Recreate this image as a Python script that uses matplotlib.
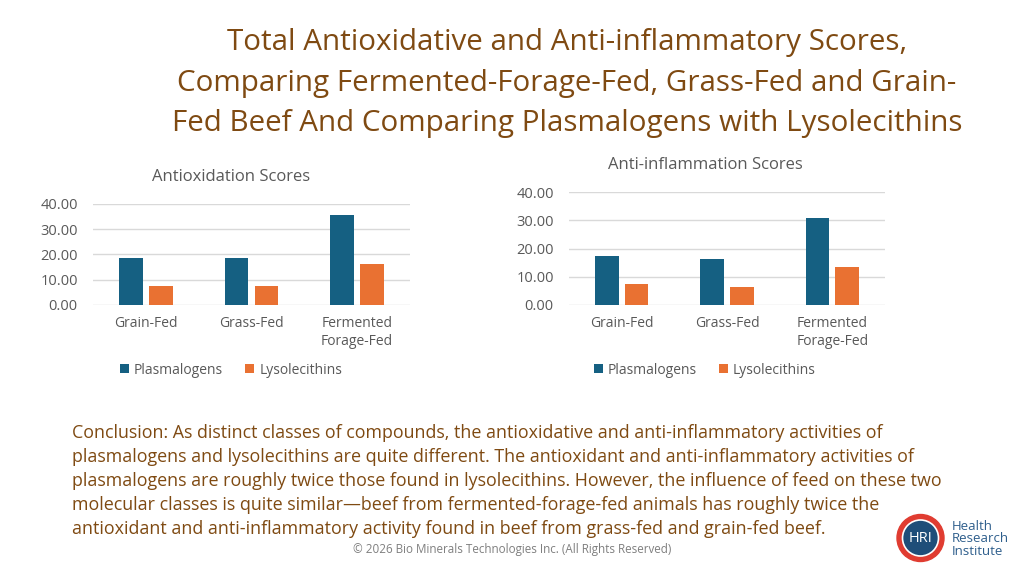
import matplotlib
matplotlib.use("Agg")
import matplotlib.pyplot as plt
from matplotlib.patches import Circle
import numpy as np

plt.rcParams['font.family'] = ['Open Sans', 'DejaVu Sans']

# data
categories = ["Grain-Fed", "Grass-Fed", "Fermented\nForage-Fed"]
series_names = ["Plasmalogens", "Lysolecithins"]
antiox_plasma = [18.4, 18.4, 35.4]
antiox_lyso = [7.6, 7.6, 16.0]
antiinf_plasma = [17.4, 16.2, 31.0]
antiinf_lyso = [7.6, 6.4, 13.4]
y_ticks = [0, 10, 20, 30, 40]

title = ("Total Antioxidative and Anti-inflammatory Scores,\n"
         "Comparing Fermented-Forage-Fed, Grass-Fed and Grain-\n"
         "Fed Beef And Comparing Plasmalogens with Lysolecithins")
conclusion_lines = [
    "Conclusion: As distinct classes of compounds, the antioxidative and anti-inflammatory activities of",
    "plasmalogens and lysolecithins are quite different. The antioxidant and anti-inflammatory activities of",
    "plasmalogens are roughly twice those found in lysolecithins. However, the influence of feed on these two",
    "molecular classes is quite similar\u2014beef from fermented-forage-fed animals has roughly twice the",
    "antioxidant and anti-inflammatory activity found in beef from grass-fed and grain-fed beef.",
]
footer = "\u00a9 2026 Bio Minerals Technologies Inc. (All Rights Reserved)"

BLUE = "#156082"
ORANGE = "#E97132"
BROWN = "#7F4A12"
GRAY = "#595959"

W, H = 1024, 576
fig = plt.figure(figsize=(W / 100, H / 100), dpi=100)
fig.patch.set_facecolor("white")


def px_axes(x0, y_top, x1, y_bottom):
    return fig.add_axes([x0 / W, 1 - y_bottom / H, (x1 - x0) / W, (y_bottom - y_top) / H])


def bar_chart(ax, plasma, lyso, chart_title, title_y, legend_y, cx):
    x = np.arange(len(categories))
    bw = 0.225
    ax.bar(x - 0.142, plasma, bw, color=BLUE, zorder=3)
    ax.bar(x + 0.142, lyso, bw, color=ORANGE, zorder=3)
    ax.set_xlim(-0.5, 2.5)
    ax.set_ylim(0, 40)
    ax.set_yticks(y_ticks)
    ax.set_yticklabels([f"{v:.2f}" for v in y_ticks], fontsize=10.5)
    ax.set_xticks(x)
    ax.set_xticklabels(categories, linespacing=1.3, fontsize=10)
    ax.tick_params(length=0, labelcolor=GRAY)
    ax.tick_params(axis='y', pad=11)
    ax.tick_params(axis='x', pad=8)
    ax.grid(axis='y', color="#D9D9D9", lw=1, zorder=0)
    for s in ax.spines.values():
        s.set_visible(False)
    fig.text(cx / W, 1 - title_y / H, chart_title, ha='center', va='center',
             fontsize=12, color=GRAY)
    ax.legend(series_names, loc='center', bbox_to_anchor=(cx / W, 1 - legend_y / H),
              bbox_transform=fig.transFigure, ncol=2, frameon=False, fontsize=10,
              labelcolor=GRAY, handlelength=0.65, handleheight=0.65, handletextpad=0.35,
              columnspacing=1.6)


ax1 = px_axes(93, 203.7, 410, 305)
bar_chart(ax1, antiox_plasma, antiox_lyso, "Antioxidation Scores", 177, 370, 231)

ax2 = px_axes(569, 192.3, 885, 305)
bar_chart(ax2, antiinf_plasma, antiinf_lyso, "Anti-inflammation Scores", 165, 370, 705)

fig.text(567 / W, 1 - 83 / H, title, ha='center', va='center', fontsize=21.3,
         color=BROWN, linespacing=1.52)

# conclusion, one text per line
for i, line in enumerate(conclusion_lines):
    fig.text(72 / W, 1 - (433 + 24 * i) / H, line, ha='left', va='center',
             fontsize=12.9, color=BROWN)

fig.text(512 / W, 1 - 549 / H, footer, ha='center', va='center', fontsize=8.4,
         color="#7F7F7F")

# logo
lax = fig.add_axes([0, 0, 1, 1], zorder=5)
lax.set_xlim(0, W)
lax.set_ylim(H, 0)
lax.axis('off')
lax.add_patch(Circle((920.5, 538), 23.5, color="#E03C31"))
lax.add_patch(Circle((920.5, 538), 18, color="#1F4E79", ec="white", lw=1.2))
lax.text(921, 538.5, "HRI", ha='center', va='center', color='white', fontsize=10.5)
lax.text(952, 539, "Health\nResearch\nInstitute", ha='left', va='center', color="#2E5E8C",
         fontsize=9.5, linespacing=0.95)

fig.savefig("out.png", dpi=100)
